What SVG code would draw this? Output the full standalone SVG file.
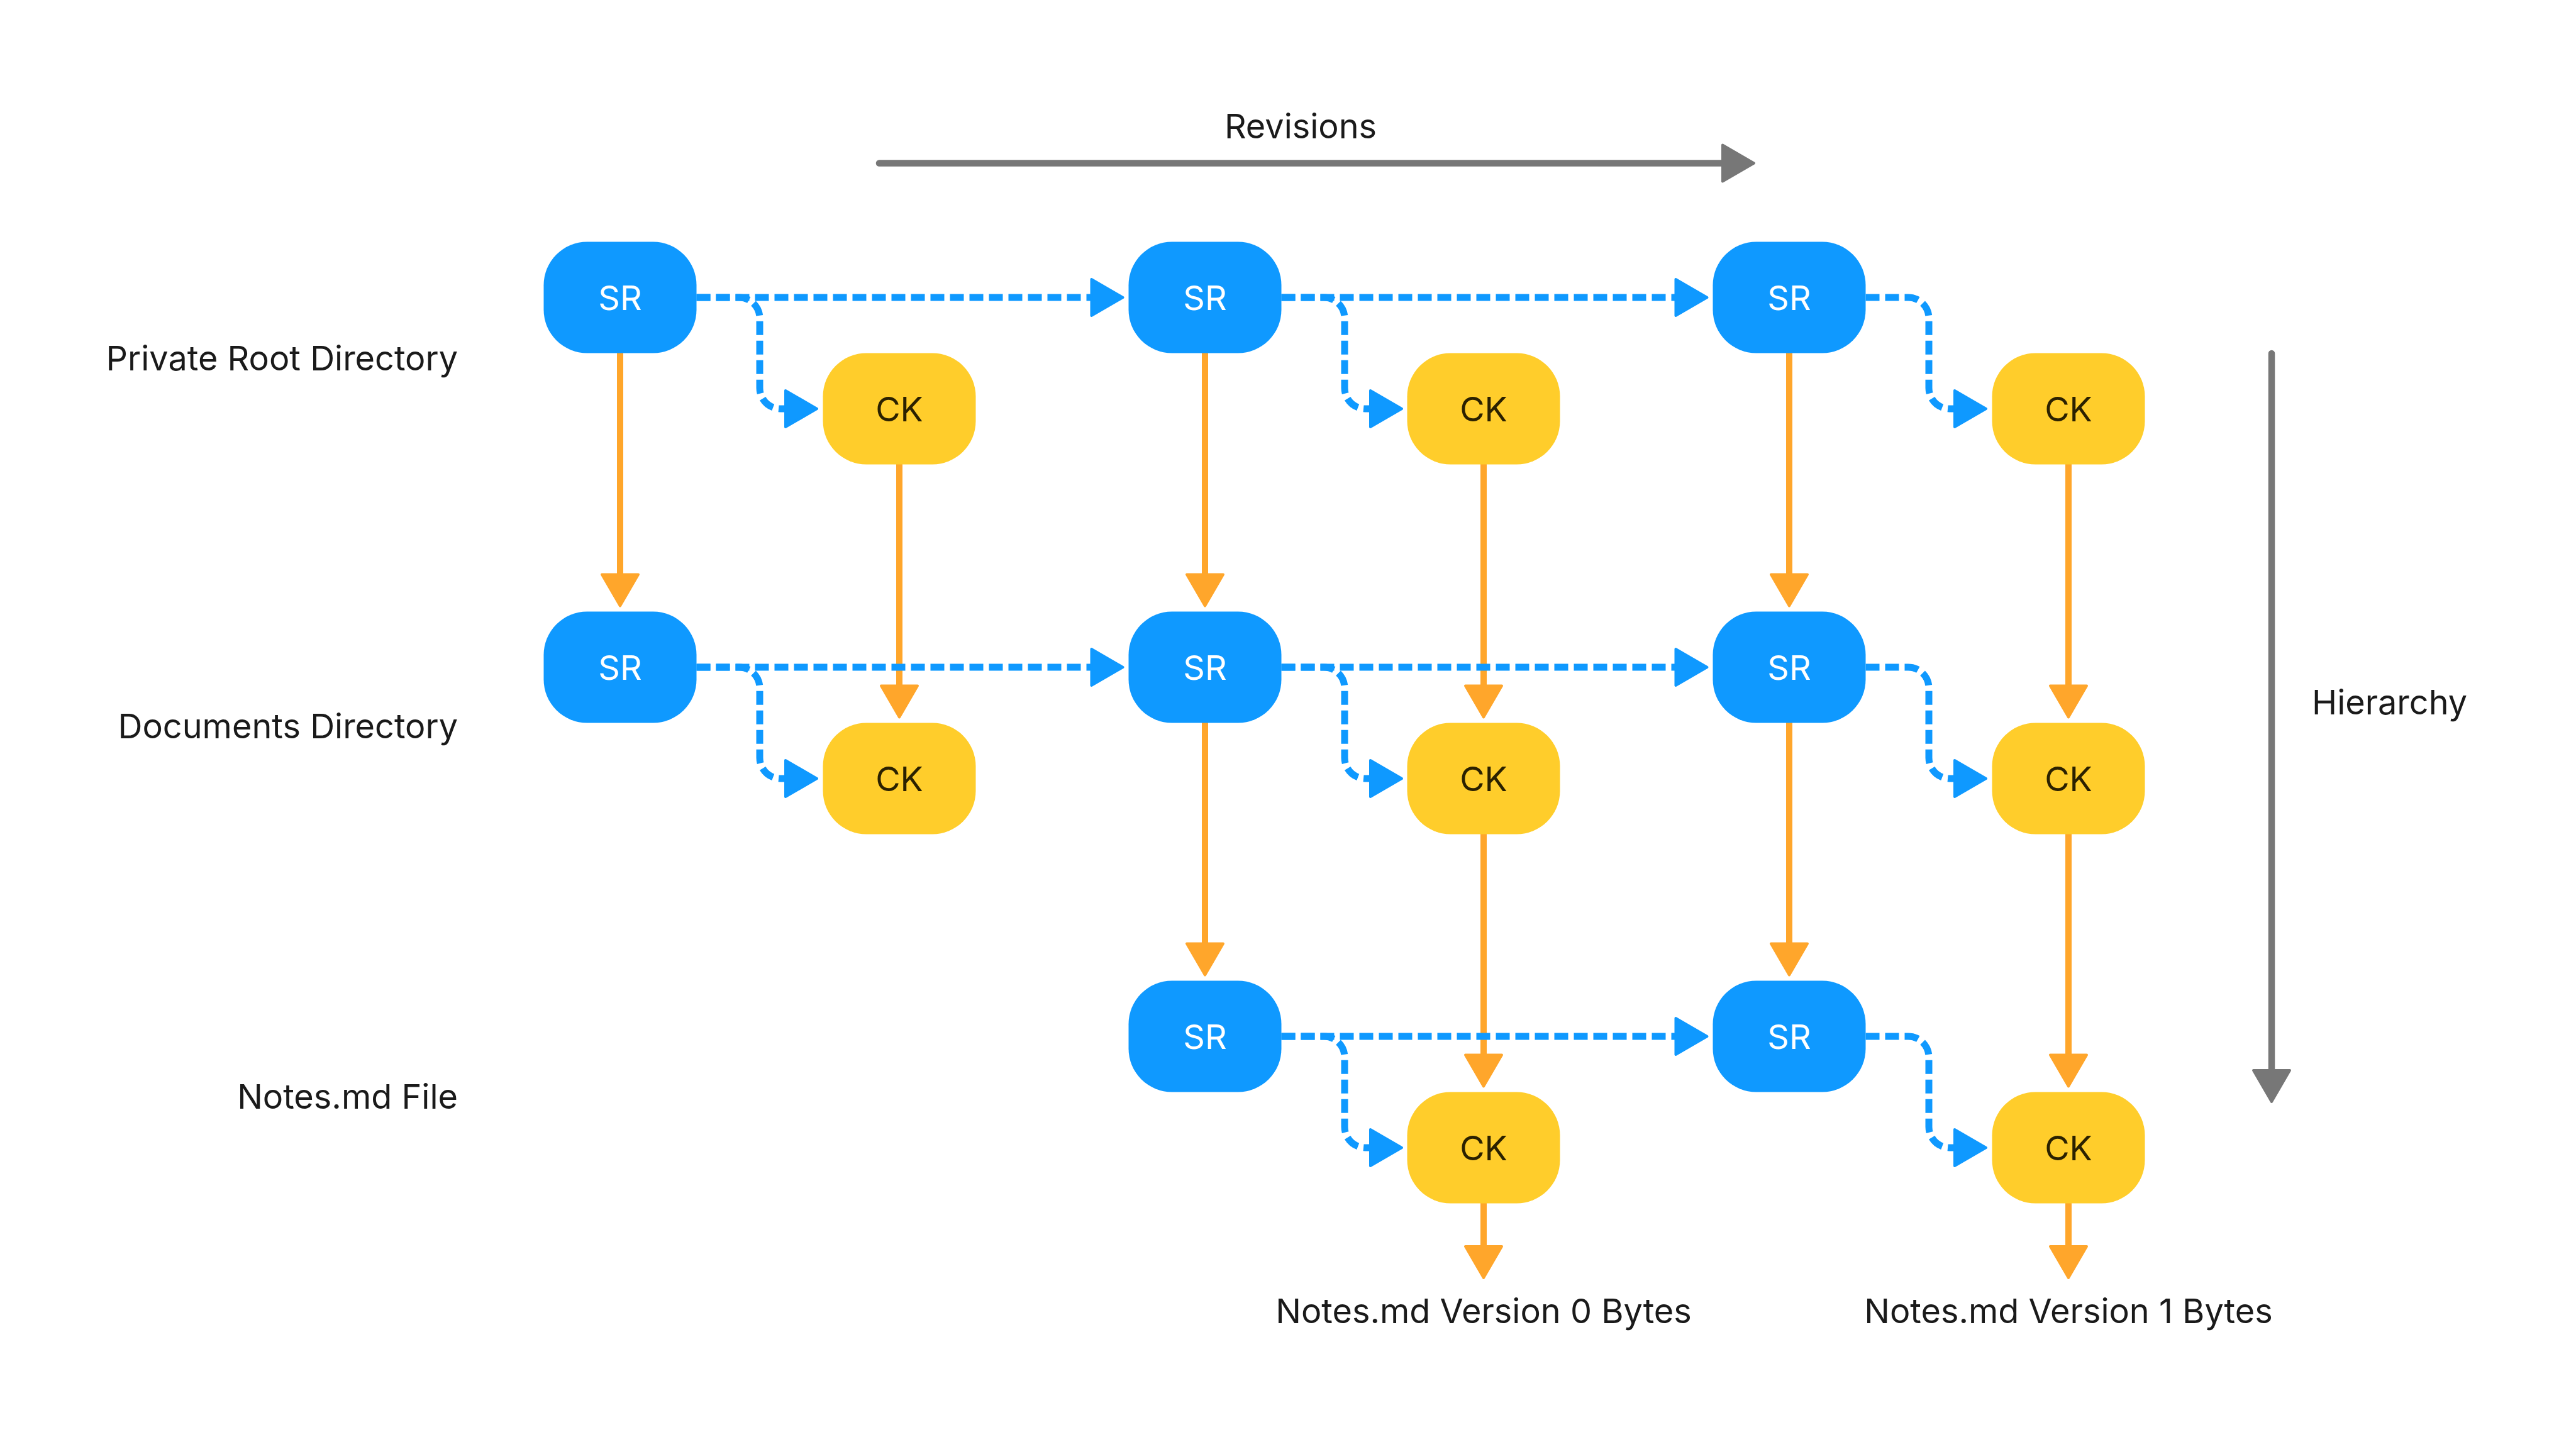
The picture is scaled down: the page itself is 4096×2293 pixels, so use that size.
<svg xmlns="http://www.w3.org/2000/svg" width="4096" height="2293" viewBox="0 0 4096 2293">
<style>
.sr rect{fill:#0F99FF}
.ck rect{fill:#FFCD2B}
.sr text{fill:#FFFFFF}
.ck text{fill:#2B2100}
text{font-family:"Inter","Liberation Sans",sans-serif;font-size:54px;fill:#1A1A1A}
.nt{text-anchor:middle}
.lbl{text-anchor:end}
.blue{fill:none;stroke:#0F99FF;stroke-width:11;stroke-dasharray:22 9;marker-end:url(#ab)}
.orange{fill:none;stroke:#FFA62B;stroke-width:10;stroke-linecap:round;marker-end:url(#ao)}
.gray{fill:none;stroke:#777777;stroke-width:10.5;stroke-linecap:round;marker-end:url(#ag)}
</style>
<defs>
<marker id="ab" markerUnits="userSpaceOnUse" markerWidth="60" markerHeight="70" viewBox="-5 -5 60 70" refX="3" refY="29" orient="auto"><path d="M0,0 L50,29 L0,58 Z" fill="#0F99FF" stroke="#0F99FF" stroke-width="4" stroke-linejoin="round"/></marker>
<marker id="ao" markerUnits="userSpaceOnUse" markerWidth="60" markerHeight="70" viewBox="-5 -5 60 70" refX="3" refY="29" orient="auto"><path d="M0,0 L50,29 L0,58 Z" fill="#FFA62B" stroke="#FFA62B" stroke-width="4" stroke-linejoin="round"/></marker>
<marker id="ag" markerUnits="userSpaceOnUse" markerWidth="60" markerHeight="70" viewBox="-5 -5 60 70" refX="3" refY="29" orient="auto"><path d="M0,0 L50,29 L0,58 Z" fill="#777777" stroke="#777777" stroke-width="4" stroke-linejoin="round"/></marker>
</defs>
<rect width="4096" height="2293" fill="#FFFFFF"/>

<g id="labels">
<text x="2068" y="220" class="nt">Revisions</text>
<text x="3676" y="1136">Hierarchy</text>
<text x="728" y="589" class="lbl">Private Root Directory</text>
<text x="728" y="1174" class="lbl">Documents Directory</text>
<text x="728" y="1763" class="lbl">Notes.md File</text>
<text x="2359" y="2104" class="nt">Notes.md Version 0 Bytes</text>
<text x="3289" y="2104" class="nt">Notes.md Version 1 Bytes</text>
</g>

<g id="connectors">
<path class="gray" d="M1398 259.5 H2742"/>
<path class="gray" d="M3612 562 V1705"/>

<path class="orange" d="M986 561.5 V916.5"/>
<path class="orange" d="M1916 561.5 V916.5"/>
<path class="orange" d="M2845 561.5 V916.5"/>
<path class="orange" d="M1916 1149.5 V1503.5"/>
<path class="orange" d="M2845 1149.5 V1503.5"/>
<path class="orange" d="M1430 738.5 V1093.5"/>
<path class="orange" d="M2359 738.5 V1093.5"/>
<path class="orange" d="M3289 738.5 V1093.5"/>
<path class="orange" d="M2359 1326.5 V1680.5"/>
<path class="orange" d="M3289 1326.5 V1680.5"/>
<path class="orange" d="M2359 1913.5 V1985"/>
<path class="orange" d="M3289 1913.5 V1985"/>

<path class="blue" d="M1107.5 473 H1738.5"/>
<path class="blue" d="M2037.5 473 H2667.5"/>
<path class="blue" d="M1107.5 1061 H1738.5"/>
<path class="blue" d="M2037.5 1061 H2667.5"/>
<path class="blue" d="M2037.5 1648 H2667.5"/>

<path class="blue" d="M1107.5 473 H1175 A33 33 0 0 1 1208 506 V617 A33 33 0 0 0 1241 650 H1252"/>
<path class="blue" d="M2037.5 473 H2105 A33 33 0 0 1 2138 506 V617 A33 33 0 0 0 2171 650 H2182"/>
<path class="blue" d="M2966.5 473 H3034 A33 33 0 0 1 3067 506 V617 A33 33 0 0 0 3100 650 H3111"/>
<path class="blue" d="M1107.5 1061 H1175 A33 33 0 0 1 1208 1094 V1205 A33 33 0 0 0 1241 1238 H1252"/>
<path class="blue" d="M2037.5 1061 H2105 A33 33 0 0 1 2138 1094 V1205 A33 33 0 0 0 2171 1238 H2182"/>
<path class="blue" d="M2966.5 1061 H3034 A33 33 0 0 1 3067 1094 V1205 A33 33 0 0 0 3100 1238 H3111"/>
<path class="blue" d="M2037.5 1648 H2105 A33 33 0 0 1 2138 1681 V1792 A33 33 0 0 0 2171 1825 H2182"/>
<path class="blue" d="M2966.5 1648 H3034 A33 33 0 0 1 3067 1681 V1792 A33 33 0 0 0 3100 1825 H3111"/>
</g>

<g id="sr-0-0" class="sr"><rect x="864.5" y="384.5" width="243" height="177" rx="69"/><text x="986" y="493" class="nt">SR</text></g>
<g id="sr-0-1" class="sr"><rect x="1794.5" y="384.5" width="243" height="177" rx="69"/><text x="1916" y="493" class="nt">SR</text></g>
<g id="sr-0-2" class="sr"><rect x="2723.5" y="384.5" width="243" height="177" rx="69"/><text x="2845" y="493" class="nt">SR</text></g>
<g id="sr-1-0" class="sr"><rect x="864.5" y="972.5" width="243" height="177" rx="69"/><text x="986" y="1081" class="nt">SR</text></g>
<g id="sr-1-1" class="sr"><rect x="1794.5" y="972.5" width="243" height="177" rx="69"/><text x="1916" y="1081" class="nt">SR</text></g>
<g id="sr-1-2" class="sr"><rect x="2723.5" y="972.5" width="243" height="177" rx="69"/><text x="2845" y="1081" class="nt">SR</text></g>
<g id="sr-2-1" class="sr"><rect x="1794.5" y="1559.5" width="243" height="177" rx="69"/><text x="1916" y="1668" class="nt">SR</text></g>
<g id="sr-2-2" class="sr"><rect x="2723.5" y="1559.5" width="243" height="177" rx="69"/><text x="2845" y="1668" class="nt">SR</text></g>

<g id="ck-0-0" class="ck"><rect x="1308.5" y="561.5" width="243" height="177" rx="69"/><text x="1430" y="670" class="nt">CK</text></g>
<g id="ck-0-1" class="ck"><rect x="2237.5" y="561.5" width="243" height="177" rx="69"/><text x="2359" y="670" class="nt">CK</text></g>
<g id="ck-0-2" class="ck"><rect x="3167.5" y="561.5" width="243" height="177" rx="69"/><text x="3289" y="670" class="nt">CK</text></g>
<g id="ck-1-0" class="ck"><rect x="1308.5" y="1149.5" width="243" height="177" rx="69"/><text x="1430" y="1258" class="nt">CK</text></g>
<g id="ck-1-1" class="ck"><rect x="2237.5" y="1149.5" width="243" height="177" rx="69"/><text x="2359" y="1258" class="nt">CK</text></g>
<g id="ck-1-2" class="ck"><rect x="3167.5" y="1149.5" width="243" height="177" rx="69"/><text x="3289" y="1258" class="nt">CK</text></g>
<g id="ck-2-1" class="ck"><rect x="2237.5" y="1736.5" width="243" height="177" rx="69"/><text x="2359" y="1845" class="nt">CK</text></g>
<g id="ck-2-2" class="ck"><rect x="3167.5" y="1736.5" width="243" height="177" rx="69"/><text x="3289" y="1845" class="nt">CK</text></g>
</svg>
